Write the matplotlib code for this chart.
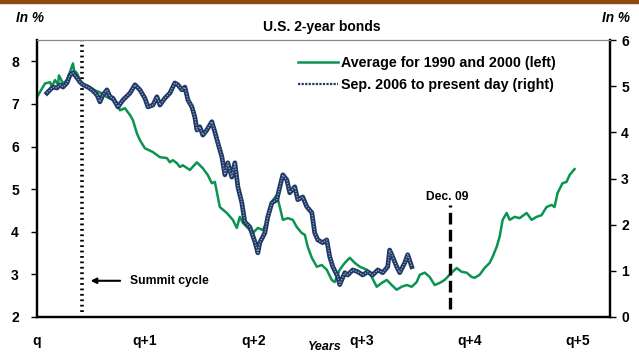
import matplotlib.pyplot as plt
from matplotlib.lines import Line2D
from matplotlib.patches import Rectangle

plt.rcParams['font.family'] = ['Liberation Sans', 'DejaVu Sans']
plt.rcParams['font.weight'] = 'bold'

# Average of the 1990 and 2000 cycles (left axis, %), x in years from q
avg_x = [0.000, 0.074, 0.120, 0.139, 0.166, 0.194, 0.203, 0.240, 0.277, 0.333,
         0.342, 0.370, 0.397, 0.425, 0.490, 0.536, 0.582, 0.647, 0.739, 0.767,
         0.813, 0.860, 0.887, 0.924, 0.952, 0.998, 1.072, 1.137, 1.201, 1.229,
         1.257, 1.294, 1.322, 1.349, 1.414, 1.479, 1.534, 1.580, 1.617, 1.645,
         1.664, 1.691, 1.756, 1.811, 1.848, 1.876, 1.904, 1.969, 1.996, 2.043,
         2.089, 2.135, 2.181, 2.218, 2.246, 2.274, 2.320, 2.366, 2.403, 2.449,
         2.477, 2.505, 2.542, 2.588, 2.634, 2.680, 2.726, 2.754, 2.800, 2.847,
         2.893, 2.939, 2.985, 3.050, 3.096, 3.142, 3.189, 3.235, 3.281, 3.327,
         3.373, 3.420, 3.466, 3.512, 3.540, 3.586, 3.632, 3.678, 3.725, 3.771,
         3.835, 3.882, 3.928, 3.974, 4.020, 4.048, 4.094, 4.140, 4.187, 4.214,
         4.251, 4.279, 4.307, 4.344, 4.372, 4.418, 4.464, 4.529, 4.575, 4.621,
         4.667, 4.713, 4.760, 4.787, 4.815, 4.861, 4.898, 4.926, 4.972]
avg_y = [7.16, 7.48, 7.51, 7.41, 7.56, 7.46, 7.67, 7.48, 7.56, 7.95,
         7.79, 7.72, 7.56, 7.44, 7.39, 7.32, 7.27, 7.16, 7.04, 6.85,
         6.90, 6.74, 6.62, 6.31, 6.15, 5.96, 5.87, 5.75, 5.73, 5.63,
         5.68, 5.61, 5.52, 5.56, 5.45, 5.63, 5.49, 5.33, 5.14, 5.17,
         4.93, 4.58, 4.44, 4.28, 4.09, 4.35, 4.21, 4.04, 3.97, 4.09,
         4.04, 4.28, 4.74, 4.86, 4.58, 4.28, 4.32, 4.28, 4.11, 3.97,
         3.93, 3.64, 3.39, 3.18, 3.22, 3.11, 2.87, 2.82, 3.11, 3.27,
         3.39, 3.27, 3.18, 3.11, 2.94, 2.71, 2.80, 2.87, 2.75, 2.64,
         2.71, 2.75, 2.71, 2.82, 2.99, 3.04, 2.94, 2.75, 2.80, 2.87,
         3.04, 3.15, 3.06, 3.04, 2.94, 2.92, 2.99, 3.15, 3.27, 3.41,
         3.64, 3.88, 4.28, 4.44, 4.28, 4.35, 4.32, 4.44, 4.28, 4.35,
         4.39, 4.58, 4.63, 4.58, 4.91, 5.14, 5.17, 5.33, 5.47]

# Sep. 2006 to present day (right axis, %)
cur_x = [0.092, 0.120, 0.148, 0.185, 0.213, 0.240, 0.277, 0.305, 0.333, 0.370,
         0.397, 0.425, 0.471, 0.508, 0.555, 0.582, 0.610, 0.647, 0.675, 0.702,
         0.749, 0.795, 0.860, 0.906, 0.952, 0.998, 1.026, 1.072, 1.109, 1.137,
         1.183, 1.229, 1.275, 1.303, 1.340, 1.368, 1.396, 1.433, 1.460, 1.479,
         1.506, 1.534, 1.571, 1.617, 1.645, 1.673, 1.710, 1.738, 1.765, 1.802,
         1.830, 1.858, 1.895, 1.922, 1.969, 2.015, 2.043, 2.061, 2.107, 2.135,
         2.172, 2.218, 2.246, 2.274, 2.311, 2.338, 2.384, 2.412, 2.458, 2.495,
         2.542, 2.569, 2.597, 2.643, 2.680, 2.708, 2.736, 2.782, 2.800, 2.847,
         2.874, 2.921, 2.967, 3.013, 3.059, 3.105, 3.152, 3.198, 3.244, 3.262,
         3.290, 3.327, 3.355, 3.401, 3.429, 3.466]
cur_y = [4.85, 4.92, 4.98, 4.96, 5.03, 4.98, 5.07, 5.24, 5.29, 5.18,
         5.09, 5.03, 4.98, 4.92, 4.81, 4.66, 4.81, 4.92, 4.77, 4.74,
         4.55, 4.70, 4.85, 5.03, 4.92, 4.74, 4.55, 4.59, 4.77, 4.59,
         4.74, 4.85, 5.07, 5.03, 4.92, 4.98, 4.70, 4.55, 4.33, 4.05,
         4.12, 3.94, 4.05, 4.23, 4.01, 3.77, 3.47, 3.08, 3.34, 3.03,
         3.34, 2.82, 2.47, 2.06, 1.95, 1.63, 1.39, 1.61, 1.82, 2.17,
         2.47, 2.54, 2.82, 3.08, 2.97, 2.69, 2.82, 2.54, 2.60, 2.39,
         2.26, 1.82, 1.67, 1.61, 1.67, 1.30, 1.09, 0.87, 0.70, 0.96,
         0.91, 1.02, 0.98, 0.91, 0.98, 0.91, 1.02, 0.96, 1.09, 1.45,
         1.30, 1.09, 0.96, 1.17, 1.35, 1.09]

x_ticks = [0, 1, 2, 3, 4, 5]
x_labels = ['q', 'q+1', 'q+2', 'q+3', 'q+4', 'q+5']
summit_x = 0.416
dec09_x = 3.817

green = '#0a9450'
navy = '#1f3864'

fig = plt.figure(figsize=(6.39, 3.54), dpi=100)
fig.patches.append(Rectangle((0, 0.991), 1, 0.009, transform=fig.transFigure,
                             color='#8a4a0c', zorder=0))

ax = fig.add_axes([37 / 639, 1 - 317 / 354, 573 / 639, 277 / 354])
ax2 = ax.twinx()

ax.plot(avg_x, avg_y, color=green, lw=1.8, zorder=3)
ax2.plot(cur_x, cur_y, color=navy, lw=3.4, zorder=2)
ax2.plot(cur_x, cur_y, color='#9fb0cf', lw=0.9, ls=(0, (1, 1.2)), zorder=2)

ax.set_xlim(0, 5.3)
ax.set_ylim(2, 8.5)
ax2.set_ylim(0, 6)

ax.set_xticks(x_ticks)
ax.set_xticklabels(x_labels)
ax.tick_params(axis='x', length=0, pad=12, labelsize=10)
ax.set_yticks([2, 3, 4, 5, 6, 7, 8])
ax.tick_params(axis='y', direction='out', length=4, width=1, pad=9, labelsize=10)
ax2.set_yticks([0, 1, 2, 3, 4, 5, 6])
ax2.tick_params(axis='y', direction='out', length=4, width=1, pad=4, labelsize=10)

for a in (ax, ax2):
    a.spines['top'].set_color('#888888')
    a.spines['top'].set_linewidth(0.8)
    for s in ('left', 'right', 'bottom'):
        a.spines[s].set_linewidth(1.6)

# vertical markers
ax.plot([summit_x, summit_x], [2.12, 8.5], color='black', lw=2.6,
        ls=(0, (0.5, 1.0)), zorder=4, clip_on=False)
ax.plot([dec09_x, dec09_x], [2.19, 4.63], color='black', lw=2.4,
        ls=(0, (3.5, 1.6)), zorder=4)
ax.text(dec09_x - 0.02, 4.82, 'Dec. 09', ha='center', va='center', fontsize=8.7)

ax.annotate('', xy=(0.47, 2.85), xytext=(0.795, 2.85),
            arrowprops=dict(arrowstyle='-|>', color='black', lw=1.5,
                            mutation_scale=8))
ax.text(0.86, 2.85, 'Summit cycle', ha='left', va='center', fontsize=8.7)

handles = [Line2D([], [], color=green, lw=1.8),
           Line2D([], [], color=navy, lw=1.6, ls=(0, (1, 0.6)))]
ax.legend(handles, ['Average for 1990 and 2000 (left)',
                    'Sep. 2006 to present day (right)'],
          loc='upper left', bbox_to_anchor=(0.428, 1.0), frameon=False,
          fontsize=10.3, handlelength=2.8, handletextpad=0.2, labelspacing=0.55,
          borderaxespad=0.7)

fig.text(322 / 639, 1 - 27 / 354, 'U.S. 2-year bonds', ha='center',
         va='center', fontsize=10)
fig.text(30 / 639, 1 - 18 / 354, 'In %', ha='center', va='center',
         fontsize=9.8, style='italic')
fig.text(616 / 639, 1 - 18 / 354, 'In %', ha='center', va='center',
         fontsize=9.8, style='italic')
fig.text(325 / 639, 1 - 347 / 354, 'Years', ha='center', va='center',
         fontsize=9, style='italic')

fig.savefig('out.png', dpi=100)
